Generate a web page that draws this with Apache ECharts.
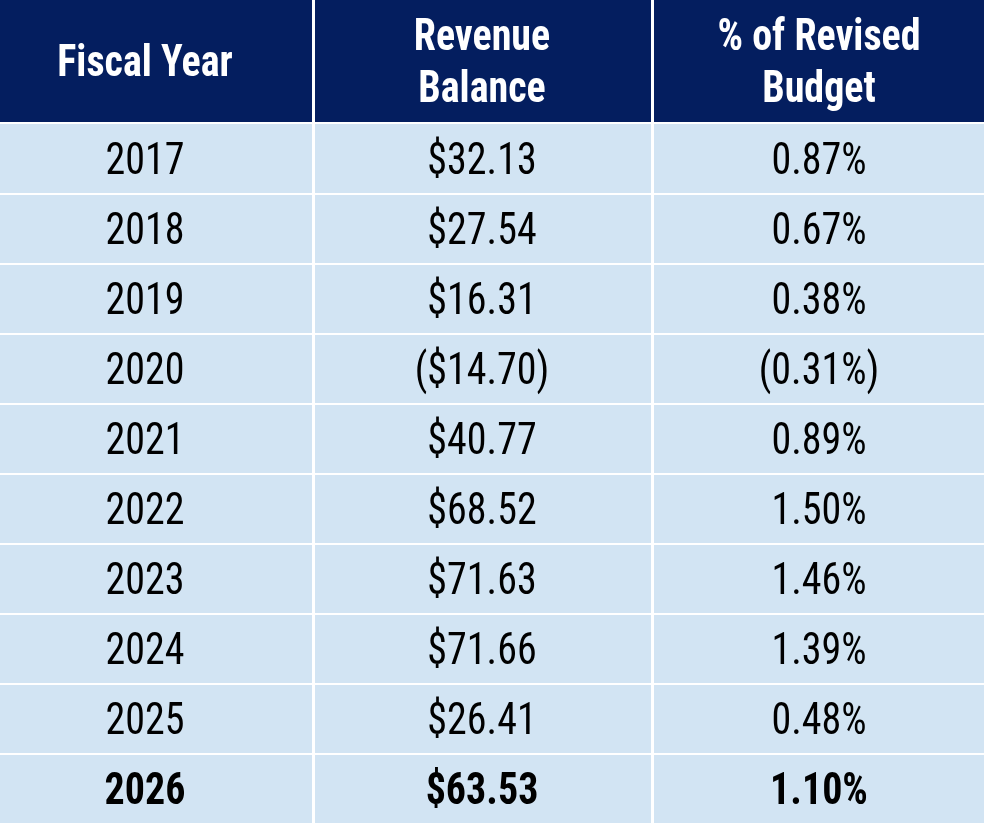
<!DOCTYPE html>
<html><head><meta charset="utf-8">
<script src="https://cdn.jsdelivr.net/npm/echarts@6/dist/echarts.min.js"></script>
<style>html,body{margin:0;padding:0;background:#fff}#c{width:984px;height:825px}</style>
</head><body><div id="c"></div>
<script>
const headers = ['Fiscal Year', 'Revenue\nBalance', '% of Revised\nBudget'];
const years = ['2017','2018','2019','2020','2021','2022','2023','2024','2025','2026'];
const balances = ['$32.13','$27.54','$16.31','($14.70)','$40.77','$68.52','$71.63','$71.66','$26.41','$63.53'];
const pcts = ['0.87%','0.67%','0.38%','(0.31%)','0.89%','1.50%','1.46%','1.39%','0.48%','1.10%'];

const colEdges = [0, 313, 652, 984];
const colTextX = [145, 482, 819];
const headerH = 122, rowTop = 124, rowH = 70;
const FONT = "'Liberation Sans Narrow','Arial Narrow','Roboto Condensed','Liberation Sans',sans-serif";

const cells = [];
headers.forEach((h, c) => cells.push([c, -1, h]));
const cols = [years, balances, pcts];
cols.forEach((arr, c) => arr.forEach((v, r) => cells.push([c, r, v])));

const chart = echarts.init(document.getElementById('c'));
chart.setOption({
  animation: false,
  grid: {left: 0, right: 0, top: 0, bottom: 0},
  xAxis: {type: 'value', min: 0, max: 984, show: false},
  yAxis: {type: 'value', min: 0, max: 825, inverse: true, show: false},
  series: [{
    type: 'custom',
    data: cells,
    encode: {x: 0, y: 1},
    renderItem: function (params, api) {
      const c = api.value(0), r = api.value(1);
      const text = cells[params.dataIndex][2];
      const x0 = colEdges[c] + (c > 0 ? 2 : 0), x1 = colEdges[c + 1] - (c < 2 ? 1 : 0);
      let y0, y1;
      if (r < 0) { y0 = 0; y1 = headerH; }
      else { y0 = rowTop + r * rowH + (r > 0 ? 1 : 0); y1 = rowTop + (r + 1) * rowH - 1; }
      const p0 = api.coord([x0, y0]), p1 = api.coord([x1, y1]);
      const header = r < 0, bold = header || r === 9;
      const tx = api.coord([colTextX[c], 0])[0];
      return {
        type: 'group',
        children: [
          {type: 'rect', shape: {x: p0[0], y: p0[1], width: p1[0] - p0[0], height: p1[1] - p0[1]},
           style: {fill: header ? '#041e5f' : '#d2e4f3'}},
          {type: 'text', x: tx, y: (p0[1] + p1[1]) / 2 + (header ? 4 : 4),
           scaleX: 1.0, scaleY: 1.12,
           style: {text: text, fill: header ? '#ffffff' : '#000000', align: 'center', verticalAlign: 'middle',
             font: (bold ? 'bold ' : '') + '40px ' + FONT, lineHeight: 46}}
        ]
      };
    }
  }]
});
</script></body></html>
